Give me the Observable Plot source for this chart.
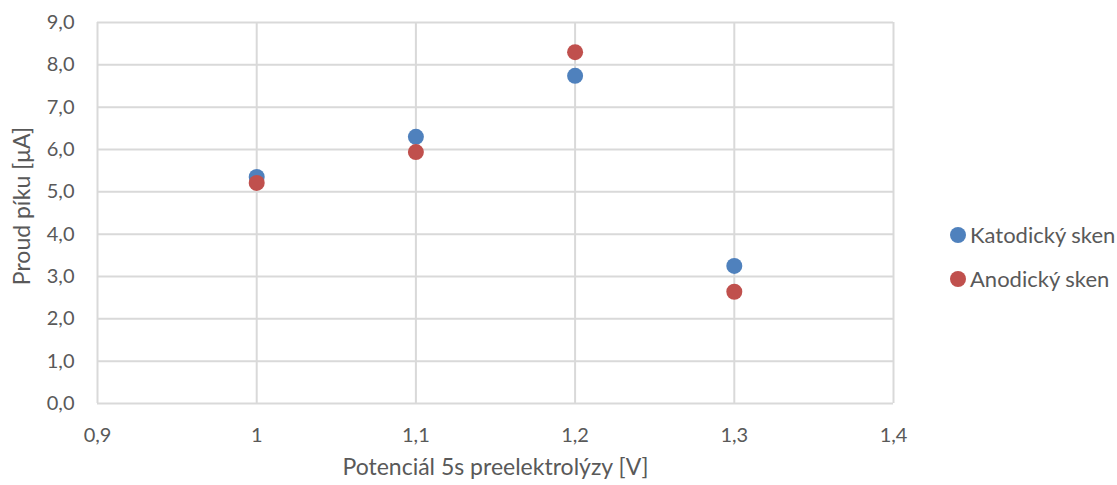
<!DOCTYPE html>
<html>
<head>
<meta charset="utf-8">
<script src="https://cdn.jsdelivr.net/npm/d3@7"></script>
<script src="https://cdn.jsdelivr.net/npm/@observablehq/plot@0.6"></script>
<style>
  html, body { margin: 0; padding: 0; background: #fff; }
  #wrap { position: relative; width: 1117px; height: 485px; font-family: Lato, "Open Sans", sans-serif; color: #595959; }
  #legend { position: absolute; left: 950px; top: 213px; font-size: 22px; line-height: 44px; }
  #legend .item { display: flex; align-items: center; }
  #legend .sw { width: 16px; height: 16px; border-radius: 50%; margin-right: 4px; }
</style>
</head>
<body>
<div id="wrap"><div id="chart"></div><div id="legend"></div></div>
<script>
const potentials = [1.0, 1.1, 1.2, 1.3];
const katodicky = [5.35, 6.30, 7.74, 3.25];
const anodicky = [5.21, 5.94, 8.30, 2.64];
const seriesNames = ["Katodický sken", "Anodický sken"];
const seriesColors = ["#4F81BD", "#C0504D"];
const xTicks = [0.9, 1.0, 1.1, 1.2, 1.3, 1.4];
const yTicks = [0, 1, 2, 3, 4, 5, 6, 7, 8, 9];

const data = [];
potentials.forEach((p, i) => data.push({x: p, y: katodicky[i], s: seriesNames[0]}));
potentials.forEach((p, i) => data.push({x: p, y: anodicky[i], s: seriesNames[1]}));

const fmtX = d => String(+d.toFixed(1)).replace(".", ",");
const fmtY = d => d.toFixed(1).replace(".", ",");

const chart = Plot.plot({
  width: 1117,
  height: 485,
  marginLeft: 97,
  marginRight: 224,
  marginTop: 22,
  marginBottom: 82,
  style: {fontFamily: "Lato, 'Open Sans', sans-serif", fontSize: "20px", color: "#595959", background: "#fff"},
  x: {domain: [0.9, 1.4], ticks: xTicks, tickFormat: fmtX, label: null},
  y: {domain: [0, 9], ticks: yTicks, tickFormat: fmtY, label: null},
  color: {domain: seriesNames, range: seriesColors},
  marks: [
    Plot.gridX(xTicks, {stroke: "#d9d9d9", strokeOpacity: 1, strokeWidth: 2}),
    Plot.gridY(yTicks, {stroke: "#d9d9d9", strokeOpacity: 1, strokeWidth: 2}),
    Plot.axisX(xTicks, {tickSize: 0, tickPadding: 24, fontSize: 20, fill: "#595959", label: null, tickFormat: fmtX}),
    Plot.axisY(yTicks, {tickSize: 0, tickPadding: 23, fontSize: 20, fill: "#595959", label: null, tickFormat: fmtY}),
    Plot.text(["Potenciál 5s preelektrolýzy [V]"], {frameAnchor: "bottom", dy: 71, fontSize: 23, fill: "#595959"}),
    Plot.text(["Proud píku [μA]"], {frameAnchor: "left", textAnchor: "middle", dx: -75, dy: -7, rotate: -90, fontSize: 23, fill: "#595959"}),
    Plot.dot(data, {x: "x", y: "y", fill: "s", r: 8, stroke: null})
  ]
});
document.getElementById("chart").appendChild(chart);

const legend = document.getElementById("legend");
seriesNames.forEach((n, i) => {
  const it = document.createElement("div");
  it.className = "item";
  it.innerHTML = `<span class="sw" style="background:${seriesColors[i]}"></span><span>${n}</span>`;
  legend.appendChild(it);
});
</script>
</body>
</html>
